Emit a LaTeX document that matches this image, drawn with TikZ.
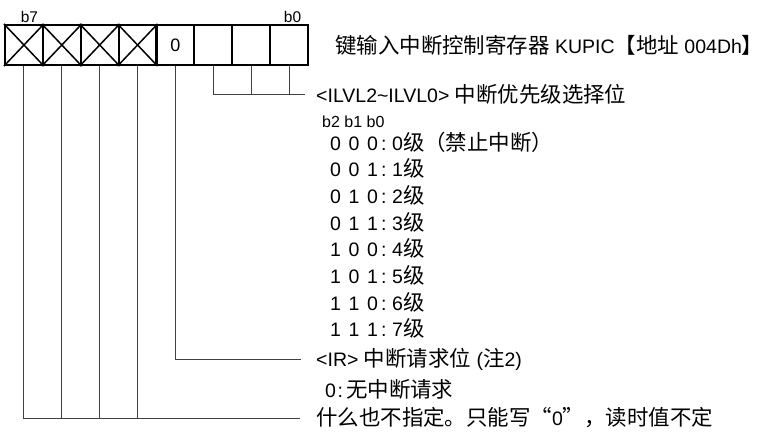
\documentclass[tikz,border=0pt]{standalone}
\usepackage{fontspec}
\setmainfont{Liberation Sans}
\newfontfamily\cjk[Scale=1.1]{Noto Sans CJK SC}
\newcommand\C[1]{{\cjk #1}}
\newcommand\bitrow[4]{\makebox[18.5pt][l]{#1}\makebox[18.5pt][l]{#2}\makebox[14pt][l]{#3}\makebox[11pt][l]{:}#4}
\tikzset{
  cell/.style={draw, line width=2.1pt, minimum width=37.875pt, minimum height=40pt, inner sep=0pt},
  xline/.style={line width=1.5pt},
  conn/.style={line width=0.9pt, draw=black!75},
  txt/.style={anchor=west, inner sep=0pt, font=\fontsize{19.5}{21}\selectfont},
  small/.style={inner sep=0pt, font=\fontsize{15.5}{16}\selectfont},
}
\begin{document}
\begin{tikzpicture}[x=1pt,y=-1pt]
\useasboundingbox (0,0) rectangle (766,434);
% register cells, c7 leftmost
\foreach \i/\n in {0/7,1/6,2/5,3/4,4/3,5/2,6/1,7/0} {
  \node[cell] (c\n) at ({5+37.875*(\i+0.5)},45) {};
}
\node at (c3) [font=\fontsize{18}{18}\selectfont] (z3) {0};
\foreach \n in {7,6,5,4} {
  \draw[xline] (c\n.north west) -- (c\n.south east);
  \draw[xline] (c\n.south west) -- (c\n.north east);
}
\foreach \n in {7,6,5,4,3,2,1,0} { \node[cell,fill=none] at (c\n) {}; }
\node[small] (lb7) at (29.5,17) {b7};
\node[small] (lb0) at (292.5,17) {b0};

% texts
\node[txt] (title) at (335,45) {\C{键输入中断控制寄存器} KUPIC\C{【地址} 004Dh\C{】}};
\node[txt] (tL) at (316,94) {<ILVL2\textasciitilde ILVL0> \C{中断优先级选择位}};
\node[txt, font=\fontsize{16}{16}\selectfont] (tb) at (322,122) {b2 b1 b0};
\foreach \k/\a/\b/\c/\r in {0/0/0/0/{0\C{级（禁止中断）}},1/0/0/1/{1\C{级}},2/0/1/0/{2\C{级}},3/0/1/1/{3\C{级}},4/1/0/0/{4\C{级}},5/1/0/1/{5\C{级}},6/1/1/0/{6\C{级}},7/1/1/1/{7\C{级}}} {
  \node[txt] (row\k) at (330,{142+26.67*\k}) {\bitrow{\a}{\b}{\c}{\r}};
}
\node[txt] (tIR) at (316,359) {<IR> \C{中断请求位} (\C{注}2)};
\node[txt] (tIR0) at (325,389) {\makebox[12.5pt][l]{0}:\hspace{3pt}\C{无中断请求}};
\node[txt] (tB) at (316,418) {\C{什么也不指定。只能写“}0\C{”，读时值不定}};

% connectors
\draw[conn, shorten >=11pt] (c2.south) |- (tL.west);
\draw[conn] (c1.south) -- (c1.south |- tL.west);
\draw[conn] (c0.south) -- (c0.south |- tL.west);
\draw[conn, shorten >=15pt] (c3.south) |- (tIR.west);
\draw[conn, shorten >=16pt] (c7.south) |- (tB.west);
\foreach \n in {6,5,4} { \draw[conn] (c\n.south) -- (c\n.south |- tB.west); }
\end{tikzpicture}
\end{document}
